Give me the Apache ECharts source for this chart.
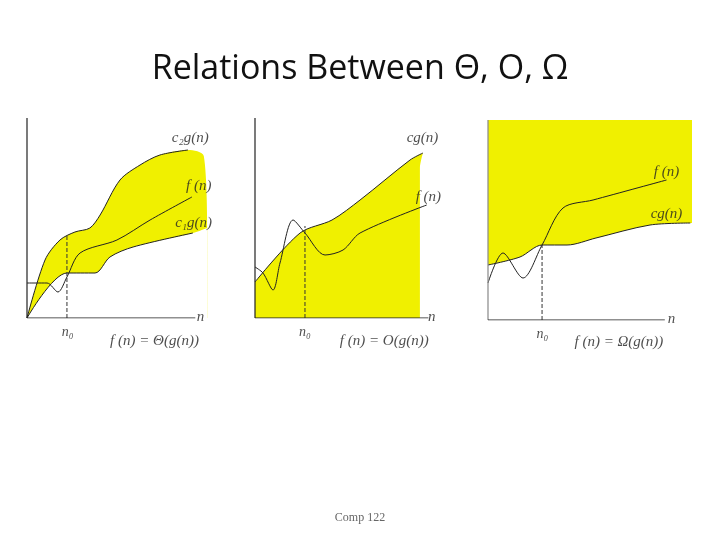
<!DOCTYPE html>
<html><head><meta charset="utf-8">
<script src="https://cdn.jsdelivr.net/npm/echarts@6/dist/echarts.min.js"></script>
<style>html,body{margin:0;padding:0;background:#fff}#c{width:720px;height:540px}</style>
</head><body><div id="c"></div>
<script>
// Panel 1: Theta
const thetaC2 = [[0,0],[1.06,2.9],[1.94,3.9],[2.82,4.3],[3.7,4.5],[4.3,5.15],[5.47,6.9],[6.65,7.65],[7.82,8.15],[9.47,8.4]];
const thetaC1 = [[0,0],[2.35,2.25],[4.0,2.25],[4.88,3.05],[6.24,3.55],[9.76,4.25]];
const thetaF  = [[0,1.75],[1.18,1.75],[1.82,1.3],[2.35,2.05],[3.12,3.25],[5.29,3.9],[7.24,4.9],[9.7,6.05]];
const thetaBlobEdge = [[10.4,8.1],[10.6,4.5]];
const thetaN0 = 2.35;
// Panel 2: O
const bigOCg = [[0,1.8],[2.65,4.25],[4.53,4.9],[6.18,5.9],[9.12,7.9],[9.88,8.25]];
const bigOF  = [[0,2.55],[0.47,2.25],[1.06,1.4],[1.47,2.75],[2.24,4.9],[2.94,4.25],[4.12,3.15],[5.18,3.4],[6.18,4.25],[10.1,5.65]];
const bigON0 = 2.94;
// Panel 3: Omega
const omegaCg = [[0,2.75],[1.88,3.15],[3.18,3.75],[4.65,3.75],[6.35,4.1],[9.53,4.75],[11.9,4.85]];
const omegaF  = [[0,1.85],[0.88,3.35],[2.06,2.1],[3.18,3.75],[4.41,5.6],[6.18,6.0],[10.5,7.0]];
const omegaN0 = 3.18;

const Y = '#f0f000';
const grids = [
  {left:27, top:118, width:187, height:200},
  {left:255,top:118, width:187, height:200},
  {left:488,top:120, width:204, height:200}
];
const xMax = [11,11,12];
const xAxis = grids.map((g,i)=>({gridIndex:i,type:'value',min:0,max:xMax[i],show:false}));
const yAxis = grids.map((g,i)=>({gridIndex:i,type:'value',min:0,max:10,show:false}));
const series = [];
function line(i,data,opt){series.push(Object.assign({type:'line',xAxisIndex:i,yAxisIndex:i,data:data,smooth:0.3,symbol:'none',silent:true,lineStyle:{color:'#222',width:1}},opt||{}));}
function label(i,x,y,text,size){series.push({type:'scatter',xAxisIndex:i,yAxisIndex:i,symbolSize:0,data:[[x,y]],silent:true,clip:false,z:10,
  label:{show:true,formatter:text,position:'inside',fontFamily:'Liberation Serif',fontStyle:'italic',fontSize:size||15,color:'#222'}});}
function axes(i,xe,col){line(i,[[0,0],[0,10]],{smooth:false,lineStyle:{color:col||'#222',width:1.2},z:5});line(i,[[0,0],[xe,0]],{smooth:false,lineStyle:{color:'#222',width:1.2},z:5});}
function dash(i,x,y){line(i,[[x,0],[x,y]],{smooth:false,lineStyle:{color:'#333',width:1,type:'dashed'},z:4});}

// Panel 1
line(0,thetaC2.concat(thetaBlobEdge),{areaStyle:{color:Y,opacity:1},lineStyle:{width:0},z:1});
line(0,thetaC1.concat([thetaBlobEdge[1]]),{areaStyle:{color:'#fff',opacity:1},lineStyle:{width:0},z:2});
line(0,thetaC2,{z:3});
line(0,thetaC1,{z:3});
line(0,thetaF,{z:3});
dash(0,thetaN0,4.1);
axes(0,9.9);
label(0,9.6,9.0,'c₂g(n)',15);
label(0,10.1,6.6,'f (n)',15);
label(0,9.8,4.75,'c₁g(n)',15);
label(0,10.2,0.05,'n',15);
label(0,2.4,-0.7,'n₀',14);
label(0,7.5,-1.15,'f (n) = Θ(g(n))',15);

// Panel 2
line(1,bigOCg.concat([[9.7,7.5],[9.7,0]]),{areaStyle:{color:Y,opacity:1},lineStyle:{width:0},z:1});
line(1,bigOCg,{z:3});
line(1,bigOF,{z:3});
dash(1,bigON0,4.6);
axes(1,10.2);
label(1,9.85,9.0,'cg(n)',15);
label(1,10.2,6.05,'f (n)',15);
label(1,10.4,0.05,'n',15);
label(1,2.94,-0.7,'n₀',14);
label(1,7.6,-1.15,'f (n) = O(g(n))',15);

// Panel 3
line(2,[[0,10],[12,10]],{smooth:false,areaStyle:{color:Y,opacity:1},lineStyle:{width:0},z:1});
line(2,omegaCg.concat([[12,4.85]]),{areaStyle:{color:'#fff',opacity:1},lineStyle:{width:0},z:2});
line(2,omegaCg,{z:3});
line(2,omegaF,{z:3});
dash(2,omegaN0,3.75);
axes(2,10.4,'#888');
label(2,10.5,7.4,'f (n)',15);
label(2,10.5,5.3,'cg(n)',15);
label(2,10.8,0.05,'n',15);
label(2,3.2,-0.7,'n₀',14);
label(2,7.7,-1.1,'f (n) = Ω(g(n))',15);

const chart = echarts.init(document.getElementById('c'));
chart.setOption({
  animation:false,
  grid:grids, xAxis:xAxis, yAxis:yAxis, series:series,
  title:[
    {text:'Relations Between Θ, O, Ω',left:'center',top:47,textStyle:{fontFamily:'Open Sans',fontWeight:'normal',fontSize:34,color:'#111'}},
    {text:'Comp 122',left:'center',top:507,textStyle:{fontFamily:'Liberation Serif',fontWeight:'normal',fontSize:12,color:'#666'}}
  ]
});
</script></body></html>
